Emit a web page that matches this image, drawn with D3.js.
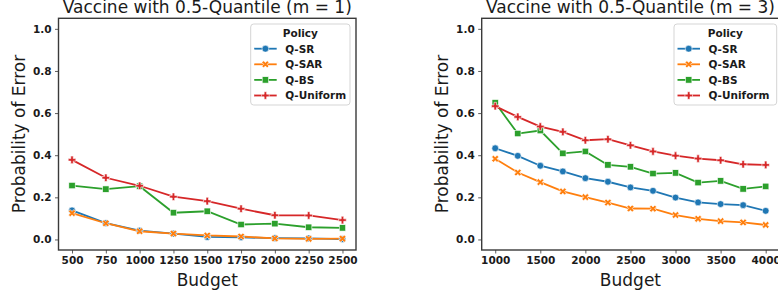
<!DOCTYPE html>
<html>
<head>
<meta charset="utf-8">
<script src="https://cdn.jsdelivr.net/npm/d3@7"></script>
<style>
  html, body { margin: 0; padding: 0; background: #fff; }
  svg { display: block; font-family: "DejaVu Sans", sans-serif; }
</style>
</head>
<body>
<svg id="chart" width="778" height="298"></svg>
<script>
// ---- Data ----
const policies = ["Q-SR", "Q-SAR", "Q-BS", "Q-Uniform"];
const budgetsLeft = [500, 750, 1000, 1250, 1500, 1750, 2000, 2250, 2500];
const budgetsRight = [1000, 1250, 1500, 1750, 2000, 2250, 2500, 2750, 3000, 3250, 3500, 3750, 4000];

const leftQSR      = [0.138, 0.078, 0.042, 0.028, 0.012, 0.010, 0.006, 0.005, 0.002];
const leftQSAR     = [0.125, 0.077, 0.039, 0.028, 0.019, 0.014, 0.005, 0.003, 0.004];
const leftQBS      = [0.256, 0.239, 0.253, 0.127, 0.134, 0.071, 0.075, 0.058, 0.055];
const leftQUniform = [0.378, 0.293, 0.255, 0.203, 0.182, 0.146, 0.115, 0.114, 0.092];

const rightQSR      = [0.433, 0.397, 0.350, 0.323, 0.291, 0.274, 0.247, 0.231, 0.199, 0.176, 0.168, 0.163, 0.136];
const rightQSAR     = [0.383, 0.318, 0.272, 0.228, 0.201, 0.175, 0.147, 0.146, 0.116, 0.098, 0.087, 0.081, 0.069];
const rightQBS      = [0.649, 0.503, 0.517, 0.409, 0.418, 0.354, 0.345, 0.313, 0.316, 0.270, 0.278, 0.240, 0.252];
const rightQUniform = [0.633, 0.582, 0.536, 0.511, 0.471, 0.476, 0.447, 0.418, 0.398, 0.384, 0.376, 0.357, 0.354];

const yTicks = [0, 0.2, 0.4, 0.6, 0.8, 1.0];
const xTicksLeft = [500, 750, 1000, 1250, 1500, 1750, 2000, 2250, 2500];
const xTicksRight = [1000, 1500, 2000, 2500, 3000, 3500, 4000];

const titles = ["Vaccine with 0.5-Quantile (m = 1)", "Vaccine with 0.5-Quantile (m = 3)"];
const xLabel = "Budget";
const yLabel = "Probability of Error";
const legendTitle = "Policy";

const colors = ["#1f77b4", "#ff7f0e", "#2ca02c", "#d62728"];
const markerTypes = ["circle", "x", "square", "plus"];

// ---- Drawing ----
const svg = d3.select("#chart");

function markerPath(type) {
  if (type === "plus" || type === "x") {
    const r = 3.8, a = 1.25;
    const pts = [[-a,-r],[a,-r],[a,-a],[r,-a],[r,a],[a,a],[a,r],[-a,r],[-a,a],[-r,a],[-r,-a],[-a,-a]];
    return "M" + pts.map(p => p.join(",")).join("L") + "Z";
  }
  return null;
}

function drawMarker(g, type, x, y, color) {
  if (type === "circle") {
    g.append("circle").attr("cx", x).attr("cy", y).attr("r", 3.4)
      .attr("fill", color).attr("stroke", "#fff").attr("stroke-width", 0.6);
  } else if (type === "square") {
    g.append("rect").attr("x", x - 3.2).attr("y", y - 3.2).attr("width", 6.4).attr("height", 6.4)
      .attr("fill", color).attr("stroke", "#fff").attr("stroke-width", 0.6);
  } else {
    g.append("path").attr("d", markerPath(type))
      .attr("transform", `translate(${x},${y})` + (type === "x" ? " rotate(45)" : ""))
      .attr("fill", color).attr("stroke", "#fff").attr("stroke-width", 0.6);
  }
}

function panel(cfg) {
  const x = d3.scaleLinear().domain(cfg.xDomain).range([cfg.x0, cfg.x1]);
  const y = d3.scaleLinear().domain([-0.05, 1.05]).range([250, 18.3]);
  const g = svg.append("g");

  // title
  g.append("text").attr("x", (cfg.x0 + cfg.x1) / 2).attr("y", 12.5)
    .attr("text-anchor", "middle").attr("font-size", 17).attr("fill", "#1a1a1a").text(cfg.title);

  // axes
  const yAxis = d3.axisLeft(y).tickValues(yTicks).tickFormat(d3.format(".1f")).tickSizeOuter(0).tickSize(3.5).tickPadding(3.5);
  const gy = g.append("g").attr("transform", `translate(${cfg.x0},0)`).call(yAxis);
  const xAxis = d3.axisBottom(x).tickValues(cfg.xTicks).tickFormat(d3.format("d")).tickSizeOuter(0).tickSize(3.5).tickPadding(3.5);
  const gx = g.append("g").attr("transform", `translate(0,250)`).call(xAxis);
  [gx, gy].forEach(a => {
    a.select(".domain").remove();
    a.selectAll(".tick line").attr("stroke", "#333").attr("stroke-width", 0.8);
    a.selectAll(".tick text").attr("font-size", 10.5).attr("font-weight", "bold").attr("fill", "#1a1a1a")
      .attr("font-family", "DejaVu Sans, sans-serif");
  });

  // labels
  g.append("text").attr("x", (cfg.x0 + cfg.x1) / 2).attr("y", 285.5)
    .attr("text-anchor", "middle").attr("font-size", 17).attr("fill", "#1a1a1a").text(xLabel);
  g.append("text").attr("transform", `translate(${cfg.yLabelX},134) rotate(-90)`)
    .attr("text-anchor", "middle").attr("font-size", 17).attr("fill", "#1a1a1a").text(yLabel);

  // series
  cfg.series.forEach((vals, i) => {
    const pts = cfg.budgets.map((b, j) => [x(b), y(vals[j])]);
    g.append("path").attr("d", d3.line()(pts)).attr("fill", "none")
      .attr("stroke", colors[i]).attr("stroke-width", 1.8);
  });
  cfg.series.forEach((vals, i) => {
    cfg.budgets.forEach((b, j) => drawMarker(g, markerTypes[i], x(b), y(vals[j]), colors[i]));
  });

  // frame
  g.append("rect").attr("x", cfg.x0).attr("y", 18.3).attr("width", cfg.x1 - cfg.x0).attr("height", 250 - 18.3)
    .attr("fill", "none").attr("stroke", "#3a3a3a").attr("stroke-width", 1.4);

  // legend
  const lg = g.append("g");
  lg.append("rect").attr("x", cfg.lx).attr("y", 24).attr("width", cfg.lw).attr("height", 81)
    .attr("rx", 3).attr("fill", "#fff").attr("fill-opacity", 0.85).attr("stroke", "#d0d0d0").attr("stroke-width", 0.9);
  lg.append("text").attr("x", cfg.lx + cfg.lw / 2).attr("y", 36.8).attr("text-anchor", "middle")
    .attr("font-size", 10.5).attr("font-weight", "bold").attr("fill", "#1a1a1a").text(legendTitle);
  policies.forEach((p, i) => {
    const yy = 48.7 + i * 15.6;
    lg.append("line").attr("x1", cfg.lx + 3.5).attr("x2", cfg.lx + 26).attr("y1", yy).attr("y2", yy)
      .attr("stroke", colors[i]).attr("stroke-width", 1.8);
    drawMarker(lg, markerTypes[i], cfg.lx + 14.7, yy, colors[i]);
    lg.append("text").attr("x", cfg.lx + 34.5).attr("y", yy + 3.8)
      .attr("font-size", 10.5).attr("font-weight", "bold").attr("fill", "#1a1a1a").text(p);
  });
}

panel({
  title: titles[0], xDomain: [400, 2600], x0: 58.5, x1: 356, xTicks: xTicksLeft,
  budgets: budgetsLeft, series: [leftQSR, leftQSAR, leftQBS, leftQUniform],
  yLabelX: 24.5, lx: 250.7, lw: 99.3
});
panel({
  title: titles[1], xDomain: [850, 4150], x0: 481.7, x1: 779.2, xTicks: xTicksRight,
  budgets: budgetsRight, series: [rightQSR, rightQSAR, rightQBS, rightQUniform],
  yLabelX: 448, lx: 674, lw: 102.7
});
</script>
</body>
</html>
